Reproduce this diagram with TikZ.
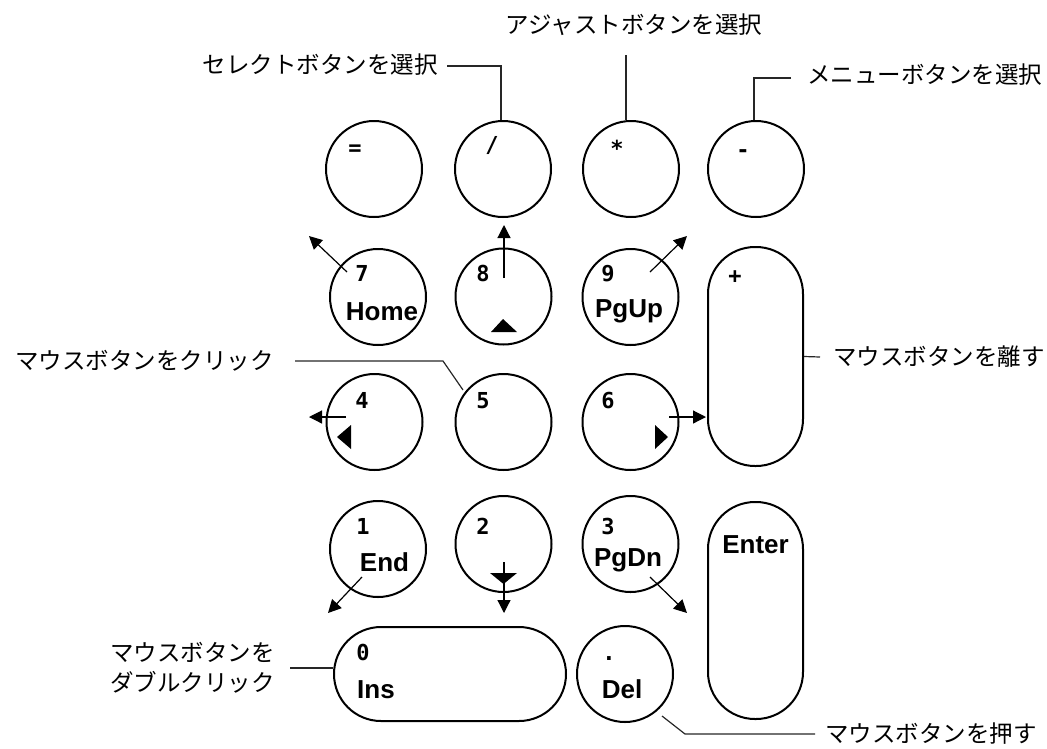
\documentclass[tikz,border=0pt]{standalone}
\usepackage{fontspec}
\setmainfont{Liberation Sans}
\newfontfamily\cjk{Noto Sans CJK JP}
\newfontfamily\mono{DejaVu Sans Mono Bold}
\usetikzlibrary{arrows.meta,calc}
\begin{document}
\begin{tikzpicture}[x=1pt,y=-1pt,
  key/.style={draw, line width=2pt, circle, minimum size=96pt, inner sep=0pt},
  pill/.style={draw, line width=2pt, rounded corners=47pt, inner sep=0pt},
  num/.style={font=\mono\fontsize{22}{22}\selectfont, inner sep=0pt, anchor=base},
  lab/.style={font=\bfseries\fontsize{26}{26}\selectfont, inner sep=0pt, anchor=base},
  jp/.style={font=\cjk\fontsize{23.5}{30}\selectfont, inner sep=0pt},
  arr/.style={line width=1.2pt, -{Triangle[length=13pt,width=13pt]}},
  call/.style={line width=1.2pt, black!85},
  tri/.style={fill=black}]
\useasboundingbox (0,0) rectangle (1047,748);

% keys
\node[key] (keq) at (374,169) {};
\node[key] (ksl) at (503,169) {};
\node[key] (kst) at (631,169) {};
\node[key] (kmi) at (756,169) {};
\node[key] (k7) at (378,297) {};
\node[key] (k8) at (503.5,296.5) {};
\node[key] (k9) at (630.5,297) {};
\node[key] (k4) at (374.5,422) {};
\node[key] (k5) at (503.5,422) {};
\node[key] (k6) at (630.5,422) {};
\node[key] (k1) at (378,549) {};
\node[key] (k2) at (503.5,544) {};
\node[key] (k3) at (630.5,544) {};
\node[key] (kdel) at (625,674) {};
\node[pill, minimum width=232pt, minimum height=94pt] (k0) at (450,674) {};
\node[pill, minimum width=95pt, minimum height=219pt] (kplus) at (755.5,356.5) {};
\node[pill, minimum width=95pt, minimum height=217pt] (kenter) at (755.5,610.5) {};

% key texts
\node[num] (teq) at (355,155) {=};
\node[num] (tsl) at (492,152) {/};
\node[num] (tst) at (617,156) {*};
\node[num] (tmi) at (743,157) {-};
\node[num] (tplus) at (735,283) {+};
\node[num] (t7) at (362,281.5) {7};
\node[num] (t8) at (483,281.5) {8};
\node[num] (t9) at (608,281.5) {9};
\node[num] (t4) at (362,408) {4};
\node[num] (t5) at (483,408) {5};
\node[num] (t6) at (608,408) {6};
\node[num] (t1) at (363,534) {1};
\node[num] (t2) at (483,534) {2};
\node[num] (t3) at (608,534) {3};
\node[num] (t0) at (363,660) {0};
\node[num] (tdot) at (609,660) {.};
\node[lab] (thome) at (382,320) {Home};
\node[lab] (tpgup) at (629,317) {PgUp};
\node[lab] (tend) at (384.5,571.5) {End};
\node[lab] (tpgdn) at (628,566) {PgDn};
\node[lab, anchor=base west] (tins) at (357,698) {Ins};
\node[lab] (tdel) at (622,698) {Del};
\node[lab] (tenter) at (755.5,553) {Enter};

% direction triangles
\fill (503,319) -- (491,332) -- (517,332) -- cycle;
\fill (490,573) -- (517,573) -- (503.5,584) -- cycle;
\fill (337,437) -- (351,425) -- (351,449) -- cycle;
\fill (668,437) -- (655,425) -- (655,449) -- cycle;

% arrows
\coordinate (s7) at (347,272); \coordinate (e7) at (309,236);
\coordinate (s8) at (504,278); \coordinate (e8) at (504,225);
\coordinate (s9) at (650,272); \coordinate (e9) at (687,236);
\coordinate (s4) at (346,417); \coordinate (e4) at (309,417);
\coordinate (s6) at (669,417); \coordinate (e6) at (706,417);
\coordinate (s1) at (362,577); \coordinate (e1) at (328,613);
\coordinate (s2) at (504,562); \coordinate (e2) at (504,613);
\coordinate (s3) at (650,577); \coordinate (e3) at (687,613);
\foreach \k in {7,8,9,4,6,1,2,3} \draw[arr] (s\k) -- (e\k);

% callout labels
\node[jp, anchor=east] (lsel) at (438,65) {セレクトボタンを選択};
\node[jp] (ladj) at (634,25) {アジャストボタンを選択};
\node[jp, anchor=west] (lmen) at (807,75) {メニューボタンを選択};
\node[jp, anchor=west] (lrel) at (833,357) {マウスボタンを離す};
\node[jp, anchor=west] (lpre) at (825,734) {マウスボタンを押す};
\node[jp, anchor=west] (lclk) at (15,361) {マウスボタンをクリック};
\node[jp, anchor=west, align=left] (ldbl) at (110,668) {マウスボタンを\\ダブルクリック};

% callout lines
\draw[call] (447,66) -- (501,66) -- (ksl.north -| 501,0);
\draw[call] (626,55) -- (kst.north -| 626,0);
\draw[call] (791,78) -- (754,78) -- (kmi.north -| 754,0);
\draw[call] (kplus.east) -- (820,357);
\draw[call] ($(kdel.center)+(37,42)$) -- (685,734) -- (815,734);
\draw[call] ($(k5.center)+(-40.5,-32)$) -- (443,361) -- (295,361);
\draw[call] (290,668) -- (290,668 -| k0.west);
\end{tikzpicture}
\end{document}
